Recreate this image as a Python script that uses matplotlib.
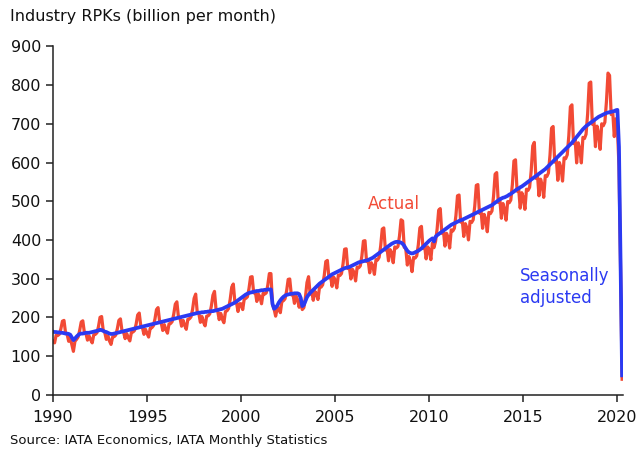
# -*- coding: utf-8 -*-
"""
Industry RPKs, actual vs seasonally adjusted (monthly, 1990 - Apr 2020)
"""

import numpy as np

import matplotlib
matplotlib.use('Agg')
import matplotlib.pyplot as plt
matplotlib.rcParams.update({'font.size': 12, 'font.family': 'DejaVu Sans'})

###----------------------------------------------------------------------------
### monthly data, billion RPKs, starting Jan 1990

actual_1990s = [138, 134, 154, 153, 156, 170, 190, 192, 160, 156, 138, 147,
                130, 112, 138, 143, 149, 166, 188, 191, 161, 158, 141, 152,
                142, 134, 155, 156, 160, 176, 200, 202, 167, 161, 143, 152,
                139, 130, 149, 150, 154, 170, 192, 196, 165, 162, 145, 158,
                147, 139, 161, 162, 166, 182, 206, 211, 177, 174, 156, 169,
                158, 149, 172, 173, 178, 195, 220, 225, 189, 186, 166, 181,
                168, 159, 183, 184, 189, 208, 234, 240, 201, 198, 177, 192,
                179, 169, 195, 196, 201, 220, 249, 260, 213, 210, 187, 202,
                187, 178, 203, 204, 209, 229, 257, 267, 220, 217, 194, 210,
                195, 186, 215, 217, 223, 246, 278, 286, 240, 239, 215, 235]

actual_2000s = [235, 220, 248, 249, 253, 274, 304, 305, 263, 267, 241, 260,
                253, 235, 262, 260, 263, 283, 313, 313, 233, 222, 203, 223,
                224, 212, 242, 243, 248, 268, 298, 299, 258, 261, 236, 254,
                246, 226, 243, 220, 225, 252, 290, 305, 260, 267, 244, 267,
                262, 246, 278, 278, 284, 308, 344, 347, 302, 308, 280, 304,
                296, 276, 309, 308, 313, 338, 376, 377, 326, 330, 299, 324,
                316, 294, 330, 328, 333, 358, 397, 398, 344, 348, 315, 341,
                333, 311, 349, 348, 355, 384, 428, 431, 374, 381, 346, 375,
                367, 341, 382, 379, 383, 410, 452, 449, 381, 378, 335, 357,
                344, 318, 355, 353, 359, 387, 431, 435, 378, 386, 351, 382]

actual_2010s = [374, 349, 392, 380, 396, 428, 477, 481, 417, 424, 384, 417,
                407, 379, 426, 423, 430, 463, 514, 516, 446, 452, 409, 442,
                431, 400, 448, 445, 452, 487, 541, 543, 469, 476, 430, 466,
                453, 421, 471, 468, 475, 513, 570, 574, 497, 505, 456, 494,
                479, 451, 499, 496, 503, 543, 604, 607, 526, 533, 482, 522,
                509, 479, 531, 528, 536, 578, 643, 652, 559, 568, 514, 557,
                542, 510, 566, 564, 573, 619, 689, 693, 601, 611, 554, 600,
                586, 552, 612, 610, 620, 669, 744, 749, 649, 661, 599, 651,
                635, 599, 665, 662, 673, 725, 805, 808, 699, 709, 641, 694,
                675, 634, 700, 695, 704, 757, 831, 825, 724, 732, 667, 713]

actual_2020 = [690, 590, 330, 40]

sa_1990s = [163, 162, 162, 161, 161, 160, 160, 159, 158, 158, 157, 155,
            148, 141, 145, 150, 154, 157, 158, 158, 159, 160, 160, 160,
            161, 162, 163, 164, 165, 166, 168, 167, 165, 163, 162, 160,
            158, 157, 157, 158, 159, 160, 161, 162, 163, 164, 165, 166,
            167, 168, 169, 170, 171, 172, 173, 174, 175, 176, 177, 178,
            179, 180, 181, 182, 183, 184, 185, 186, 187, 188, 189, 190,
            191, 192, 193, 194, 195, 196, 197, 198, 199, 200, 201, 202,
            203, 204, 205, 206, 207, 208, 209, 210, 211, 212, 212, 213,
            213, 214, 214, 215, 215, 216, 216, 217, 218, 219, 220, 221,
            222, 224, 226, 228, 230, 232, 234, 236, 238, 241, 244, 247]

sa_2000s = [250, 253, 256, 259, 261, 263, 264, 265, 266, 267, 268, 268,
            269, 270, 270, 271, 271, 272, 272, 272, 235, 222, 225, 230,
            238, 244, 249, 253, 256, 258, 259, 260, 261, 261, 262, 262,
            262, 260, 250, 229, 232, 242, 252, 258, 263, 267, 271, 275,
            279, 283, 287, 290, 293, 296, 299, 302, 305, 308, 311, 313,
            315, 317, 319, 321, 323, 325, 327, 328, 329, 330, 332, 334,
            336, 338, 340, 342, 343, 344, 345, 346, 347, 348, 350, 352,
            354, 357, 360, 363, 366, 369, 372, 375, 378, 381, 384, 387,
            390, 392, 394, 395, 395, 394, 393, 390, 385, 378, 372, 368,
            366, 365, 366, 368, 370, 372, 375, 378, 382, 386, 390, 394]

sa_2010s = [398, 401, 404, 396, 408, 412, 415, 418, 421, 424, 427, 430,
            433, 436, 439, 441, 443, 445, 447, 449, 451, 452, 454, 456,
            458, 460, 462, 464, 466, 468, 470, 472, 474, 476, 478, 480,
            482, 484, 486, 488, 490, 493, 496, 499, 502, 505, 507, 509,
            510, 512, 514, 517, 519, 522, 525, 528, 531, 533, 536, 538,
            541, 544, 547, 550, 553, 556, 559, 562, 565, 568, 571, 574,
            577, 580, 583, 587, 591, 595, 599, 603, 607, 611, 615, 619,
            623, 627, 631, 635, 639, 643, 647, 651, 656, 661, 666, 671,
            676, 681, 686, 690, 694, 697, 700, 703, 706, 709, 712, 715,
            718, 720, 722, 724, 726, 728, 729, 730, 731, 732, 733, 735]

sa_2020 = [736, 640, 340, 50]

start_year = 1990
year_ticks = [1990, 1995, 2000, 2005, 2010, 2015, 2020]
rpk_ticks = [0, 100, 200, 300, 400, 500, 600, 700, 800, 900]

###----------------------------------------------------------------------------
actual = np.array(actual_1990s + actual_2000s + actual_2010s + actual_2020)
sa = np.array(sa_1990s + sa_2000s + sa_2010s + sa_2020)
t = start_year + np.arange(len(actual)) / 12.0

red = '#F24A35'
blue = '#2B3AF2'

fig = plt.figure(figsize=(6.41, 4.55), dpi=100)
ax = fig.add_axes([0.0827, 0.1325, 0.8893, 0.7655])

ax.plot(t, actual, '-', linewidth=2.3, color=red, solid_joinstyle='round')
ax.plot(t, sa, '-', linewidth=2.7, color=blue, solid_joinstyle='round')

ax.set_xlim(1990, 2020.3)
ax.set_ylim(0, 900)
ax.set_xticks(year_ticks)
ax.set_yticks(rpk_ticks)
ax.tick_params(axis='both', direction='out', length=5, width=1.1,
               labelsize=11.5, color='#222222', labelcolor='#111111')
ax.tick_params(axis='x', pad=6)
for s in ['top', 'right']:
    ax.spines[s].set_visible(False)
for s in ['left', 'bottom']:
    ax.spines[s].set_linewidth(1.1)
    ax.spines[s].set_color('#222222')

ax.text(2008.1, 493, 'Actual', color=red, fontsize=12, ha='center', va='center')
ax.text(2014.83, 278, 'Seasonally\nadjusted', color=blue, fontsize=12,
        ha='left', va='center', linespacing=1.25)

fig.text(0.016, 0.963, 'Industry RPKs (billion per month)', fontsize=11.5,
         ha='left', va='center', color='#111111')
fig.text(0.016, 0.032, 'Source: IATA Economics, IATA Monthly Statistics',
         fontsize=9.5, ha='left', va='center', color='#111111')

fig.savefig('out.png', dpi=100)
